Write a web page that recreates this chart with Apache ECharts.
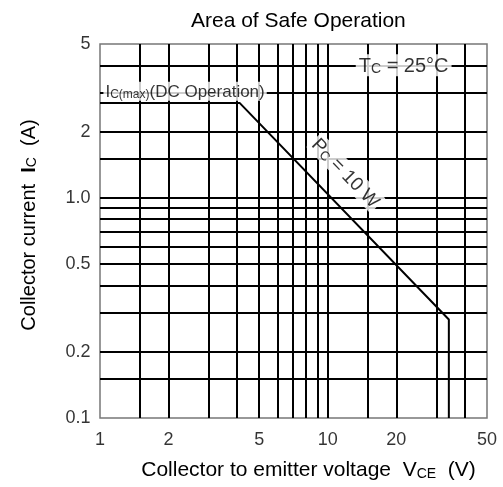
<!DOCTYPE html>
<html>
<head>
    <meta charset="UTF-8">
    <title>Area of Safe Operation</title>
    <script src="https://cdn.jsdelivr.net/npm/echarts@6/dist/echarts.min.js"></script>
    <style>
        html, body { margin: 0; padding: 0; background: #fff; }
        #main { width: 503px; height: 487px; }
    </style>
</head>
<body>
<div id="main"></div>

<script type="text/javascript">
    // log paper grid lines
    var xGridValues = [1.5, 2, 3, 4, 5, 6, 7, 8, 9, 10, 15, 20, 30, 40];
    var yGridValues = [0.15, 0.2, 0.3, 0.4, 0.5, 0.6, 0.7, 0.8, 0.9, 1, 1.5, 2, 3, 4];

    // tick labels
    var xTickValues = [1, 2, 5, 10, 20, 50];
    var xTickLabels = ['1', '2', '5', '10', '20', '50'];
    var yTickValues = [0.1, 0.2, 0.5, 1, 2, 5];
    var yTickLabels = ['0.1', '0.2', '0.5', '1.0', '2', '5'];

    // SOA boundary: VCE (V), IC (A)
    var soaVce = [1, 4.1, 34, 34];
    var soaIc = [2.7, 2.7, 0.28, 0.1];

    var fontName = '"Liberation Sans", Arial, sans-serif';

    var chart = document.getElementById('main');
    var echart = echarts.init(chart);

    // big text + smaller (subscript) text, sub sits a bit lower when subLh is small
    function makeRich(big, small, subLh) {
        return {
            t: {fontSize: big, lineHeight: big + 2, verticalAlign: 'bottom', color: '#000', fontFamily: fontName},
            b: {fontSize: big, lineHeight: big + 2, verticalAlign: 'bottom', color: '#000', fontWeight: 'bold', fontFamily: fontName},
            s: {fontSize: small, lineHeight: subLh, verticalAlign: 'bottom', color: '#000', fontFamily: fontName}
        };
    }

    var soaData = [];
    for (var i = 0; i < soaVce.length; i++) {
        soaData.push([soaVce[i], soaIc[i]]);
    }

    var gridLines = [];
    xGridValues.forEach(function (v) { gridLines.push({xAxis: v}); });
    yGridValues.forEach(function (v) { gridLines.push({yAxis: v}); });

    var xTickData = xTickValues.map(function (v, i) {
        return {value: [v, 0.1], name: xTickLabels[i]};
    });
    var yTickData = yTickValues.map(function (v, i) {
        return {value: [1, v], name: yTickLabels[i]};
    });

    var option = {
        animation: false,
        title: {
            text: 'Area of Safe Operation',
            left: 186,
            top: 6,
            textStyle: {fontSize: 21, fontWeight: 'normal', color: '#000', fontFamily: fontName}
        },
        grid: {
            left: 100,
            right: 16,
            top: 44,
            bottom: 69,
            show: true,
            borderColor: '#777',
            borderWidth: 1.5
        },
        xAxis: {
            type: 'log',
            logBase: 10,
            min: 1,
            max: 50,
            axisLine: {show: false},
            axisTick: {show: false},
            axisLabel: {show: false},
            splitLine: {show: false},
            name: '{t|Collector to emitter voltage  V}{s|CE}{t|  (V)}',
            nameLocation: 'middle',
            nameGap: 40,
            nameTextStyle: {padding: [0, 0, 0, 30], rich: makeRich(21, 14, 18)}
        },
        yAxis: {
            type: 'log',
            logBase: 10,
            min: 0.1,
            max: 5,
            axisLine: {show: false},
            axisTick: {show: false},
            axisLabel: {show: false},
            splitLine: {show: false},
            name: '{t|Collector current  }{b|I}{s|C}{t|  (A)}',
            nameLocation: 'middle',
            nameGap: 61,
            nameTextStyle: {padding: [0, 0, 0, 12], rich: makeRich(20, 14, 18)}
        },
        series: [
            {
                name: 'SOA',
                type: 'line',
                data: soaData,
                symbol: 'none',
                z: 3,
                lineStyle: {color: '#000', width: 2},
                markLine: {
                    silent: true,
                    z: 1,
                    symbol: 'none',
                    label: {show: false},
                    lineStyle: {color: '#000', width: 2, type: 'solid'},
                    data: gridLines
                }
            },
            {
                name: 'xTicks',
                type: 'scatter',
                data: xTickData,
                symbolSize: 1,
                clip: false,
                silent: true,
                itemStyle: {color: 'rgba(0,0,0,0)'},
                label: {
                    show: true,
                    position: 'bottom',
                    distance: 13,
                    formatter: '{b}',
                    fontSize: 18,
                    color: '#000',
                    fontFamily: fontName
                }
            },
            {
                name: 'yTicks',
                type: 'scatter',
                data: yTickData,
                symbolSize: 1,
                clip: false,
                silent: true,
                itemStyle: {color: 'rgba(0,0,0,0)'},
                label: {
                    show: true,
                    position: 'left',
                    distance: 9,
                    formatter: '{b}',
                    fontSize: 18,
                    color: '#000',
                    fontFamily: fontName
                }
            },
            {
                name: 'notes',
                type: 'scatter',
                symbolSize: 1,
                clip: false,
                silent: true,
                z: 5,
                itemStyle: {color: 'rgba(0,0,0,0)'},
                data: [
                    {
                        value: [1.03, 3.05],
                        label: {
                            show: true, position: 'right', distance: 0,
                            formatter: '{t|I}{s|C(max)}{t|(DC Operation)}',
                            backgroundColor: '#fff', padding: [0, 2, 0, 2],
                            rich: makeRich(17, 12, 9)
                        }
                    },
                    {
                        value: [13.2, 4],
                        label: {
                            show: true, position: 'right', distance: 0,
                            formatter: '{t|T}{s|C}{t| = 25°C}',
                            backgroundColor: '#fff', padding: [0, 3, 0, 3],
                            rich: makeRich(20, 14, 11)
                        }
                    },
                    {
                        value: [12, 1.3],
                        label: {
                            show: true, position: 'inside', rotate: -46,
                            formatter: '{t|P}{s|C}{t| = 10 W}',
                            backgroundColor: '#fff', padding: [0, 2, 0, 2],
                            rich: makeRich(19, 13, 10)
                        }
                    }
                ]
            }
        ]
    };

    echart.setOption(option);
</script>
</body>
</html>
